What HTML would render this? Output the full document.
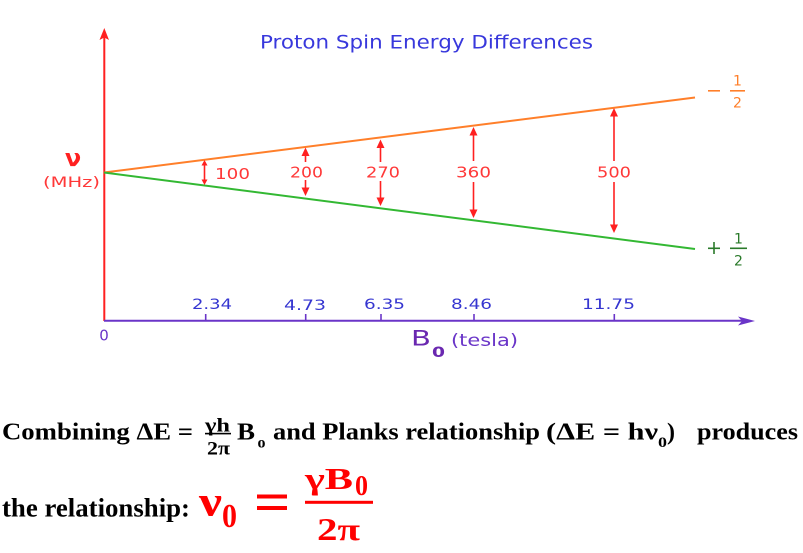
<!DOCTYPE html>
<html>
<head>
<meta charset="utf-8">
<style>
html,body{margin:0;padding:0;background:#fff;}
svg{display:block;}
.sans{font-family:"DejaVu Sans","Liberation Sans",sans-serif;}
.serif{font-family:"Liberation Serif","DejaVu Serif",serif;font-weight:bold;}
</style>
</head>
<body>
<svg width="803" height="553" viewBox="0 0 803 553" xmlns="http://www.w3.org/2000/svg">
<rect width="803" height="553" fill="#fff"/>

<!-- Title -->
<text class="sans" x="260" y="48.5" font-size="19" fill="#3838dc" textLength="333" lengthAdjust="spacingAndGlyphs">Proton Spin Energy Differences</text>

<!-- Vertical axis -->
<line x1="104.3" y1="36" x2="104.3" y2="321" stroke="#ff2020" stroke-width="2"/>
<polygon points="104.3,28 99.5,40 104.3,37.5 109,40" fill="#ff2020"/>

<!-- y label -->
<text class="sans" x="73" y="166" font-size="24" font-weight="bold" fill="#ff2020" text-anchor="middle">ν</text>
<text class="sans" x="43" y="187" font-size="14" fill="#ff3838" textLength="57" lengthAdjust="spacingAndGlyphs">(MHz)</text>

<!-- energy lines -->
<line x1="104" y1="172.5" x2="695" y2="97.5" stroke="#ff7f2a" stroke-width="2"/>
<line x1="104" y1="172.5" x2="695" y2="249" stroke="#33b833" stroke-width="2"/>

<!-- arrows -->
<g stroke="#ff2020" stroke-width="1.6" fill="#ff2020">
  <line x1="204.5" y1="162" x2="204.5" y2="183"/>
  <polygon points="204.5,160 201.5,165.5 207.5,165.5" stroke="none"/>
  <polygon points="204.5,185 201.5,179.5 207.5,179.5" stroke="none"/>
  <line x1="305.5" y1="150" x2="305.5" y2="162"/>
  <line x1="305.5" y1="180" x2="305.5" y2="192"/>
  <polygon points="305.5,147.5 301.5,156 309.5,156" stroke="none"/>
  <polygon points="305.5,196 301.5,187.5 309.5,187.5" stroke="none"/>
  <line x1="380.5" y1="142" x2="380.5" y2="162"/>
  <line x1="380.5" y1="181" x2="380.5" y2="202"/>
  <polygon points="380.5,139.5 376.5,148 384.5,148" stroke="none"/>
  <polygon points="380.5,206 376.5,197.5 384.5,197.5" stroke="none"/>
  <line x1="473.5" y1="130" x2="473.5" y2="161"/>
  <line x1="473.5" y1="182" x2="473.5" y2="214"/>
  <polygon points="473.5,127 469.5,135.5 477.5,135.5" stroke="none"/>
  <polygon points="473.5,218 469.5,209.5 477.5,209.5" stroke="none"/>
  <line x1="614" y1="111" x2="614" y2="161"/>
  <line x1="614" y1="182" x2="614" y2="229"/>
  <polygon points="614,108 610,116.5 618,116.5" stroke="none"/>
  <polygon points="614,233 610,224.5 618,224.5" stroke="none"/>
</g>
<g class="sans" font-size="15" fill="#ff3838">
  <text x="215" y="179" textLength="35" lengthAdjust="spacingAndGlyphs">100</text>
  <text x="290" y="177.5" textLength="33" lengthAdjust="spacingAndGlyphs">200</text>
  <text x="366" y="177.5" textLength="34" lengthAdjust="spacingAndGlyphs">270</text>
  <text x="456" y="177.5" textLength="35" lengthAdjust="spacingAndGlyphs">360</text>
  <text x="597" y="177.5" textLength="34" lengthAdjust="spacingAndGlyphs">500</text>
</g>

<!-- right labels -->
<g fill="#ff7f2a">
  <rect x="708" y="90" width="12" height="1.6"/>
  <rect x="730" y="90" width="15" height="1.6"/>
  <text class="sans" x="737.5" y="85.5" font-size="14" text-anchor="middle">1</text>
  <text class="sans" x="737.5" y="107.5" font-size="14" text-anchor="middle">2</text>
</g>
<g fill="#2a7a2a">
  <rect x="708" y="247.5" width="12" height="1.6"/>
  <rect x="713.2" y="242" width="1.6" height="12"/>
  <rect x="730" y="247.5" width="17" height="1.6"/>
  <text class="sans" x="738.5" y="243.5" font-size="14" text-anchor="middle">1</text>
  <text class="sans" x="738.5" y="265.5" font-size="14" text-anchor="middle">2</text>
</g>

<!-- x axis -->
<line x1="104" y1="320.8" x2="742" y2="320.8" stroke="#6a35c8" stroke-width="2"/>
<polygon points="755,321 738,316.5 742,321 738,325.5" fill="#6a35c8"/>
<g stroke="#6a35c8" stroke-width="1.6">
  <line x1="205.7" y1="314" x2="205.7" y2="321"/>
  <line x1="305.7" y1="314" x2="305.7" y2="321"/>
  <line x1="381" y1="314" x2="381" y2="321"/>
  <line x1="474" y1="314" x2="474" y2="321"/>
  <line x1="614.3" y1="314" x2="614.3" y2="321"/>
</g>
<g class="sans" font-size="14" fill="#3535d0">
  <text x="192" y="309" textLength="40" lengthAdjust="spacingAndGlyphs">2.34</text>
  <text x="284" y="310" textLength="42" lengthAdjust="spacingAndGlyphs">4.73</text>
  <text x="364" y="309" textLength="41" lengthAdjust="spacingAndGlyphs">6.35</text>
  <text x="451" y="309" textLength="41" lengthAdjust="spacingAndGlyphs">8.46</text>
  <text x="582" y="309" textLength="53" lengthAdjust="spacingAndGlyphs">11.75</text>
</g>
<text class="sans" x="104" y="340.5" font-size="15" fill="#6a35c8" text-anchor="middle">0</text>
<text class="sans" x="411" y="345.5" font-size="21" fill="#6a28b0" textLength="20" lengthAdjust="spacingAndGlyphs">B</text>
<text class="sans" x="432" y="357" font-size="14" font-weight="bold" fill="#6a28b0" textLength="13" lengthAdjust="spacingAndGlyphs">0</text>
<text class="sans" x="451" y="346" font-size="17" fill="#6a35c8" textLength="67" lengthAdjust="spacingAndGlyphs">(tesla)</text>

<!-- bottom text line 1 -->
<g class="serif" fill="#000">
  <text x="2" y="439.5" font-size="24" textLength="191" lengthAdjust="spacingAndGlyphs">Combining ΔE =</text>
  <text x="205" y="431.5" font-size="19" textLength="25" lengthAdjust="spacingAndGlyphs">γh</text>
  <rect x="205" y="432.8" width="26" height="1.6"/>
  <text x="207" y="454.5" font-size="19" textLength="23" lengthAdjust="spacingAndGlyphs">2π</text>
  <text x="237" y="439.5" font-size="24" textLength="18" lengthAdjust="spacingAndGlyphs">B</text>
  <text x="257.5" y="447.5" font-size="16" textLength="8" lengthAdjust="spacingAndGlyphs">o</text>
  <text x="273" y="439.5" font-size="24" textLength="267" lengthAdjust="spacingAndGlyphs">and Planks relationship</text>
  <text x="546" y="439.5" font-size="24" textLength="112" lengthAdjust="spacingAndGlyphs">(ΔE = hν</text>
  <text x="658" y="447" font-size="15" textLength="9" lengthAdjust="spacingAndGlyphs">0</text>
  <text x="667" y="439.5" font-size="24" textLength="8" lengthAdjust="spacingAndGlyphs">)</text>
  <text x="697" y="439.5" font-size="24" textLength="101" lengthAdjust="spacingAndGlyphs">produces</text>
</g>

<!-- bottom text line 2 -->
<text class="serif" x="2" y="516.7" font-size="26" fill="#000" textLength="188" lengthAdjust="spacingAndGlyphs">the relationship:</text>
<g class="serif" fill="#ff0000">
  <text x="199" y="515.5" font-size="42" textLength="23" lengthAdjust="spacingAndGlyphs">ν</text>
  <text x="222" y="527" font-size="34" textLength="15" lengthAdjust="spacingAndGlyphs">0</text>
  <rect x="257" y="494.5" width="30" height="4"/>
  <rect x="257" y="506" width="30" height="4"/>
  <text x="305" y="489" font-size="31" textLength="48" lengthAdjust="spacingAndGlyphs">γB</text>
  <text x="355" y="495" font-size="28" textLength="13" lengthAdjust="spacingAndGlyphs">0</text>
  <rect x="305" y="500.8" width="68" height="3"/>
  <text x="317" y="540" font-size="32" textLength="43" lengthAdjust="spacingAndGlyphs">2π</text>
</g>
</svg>
</body>
</html>
